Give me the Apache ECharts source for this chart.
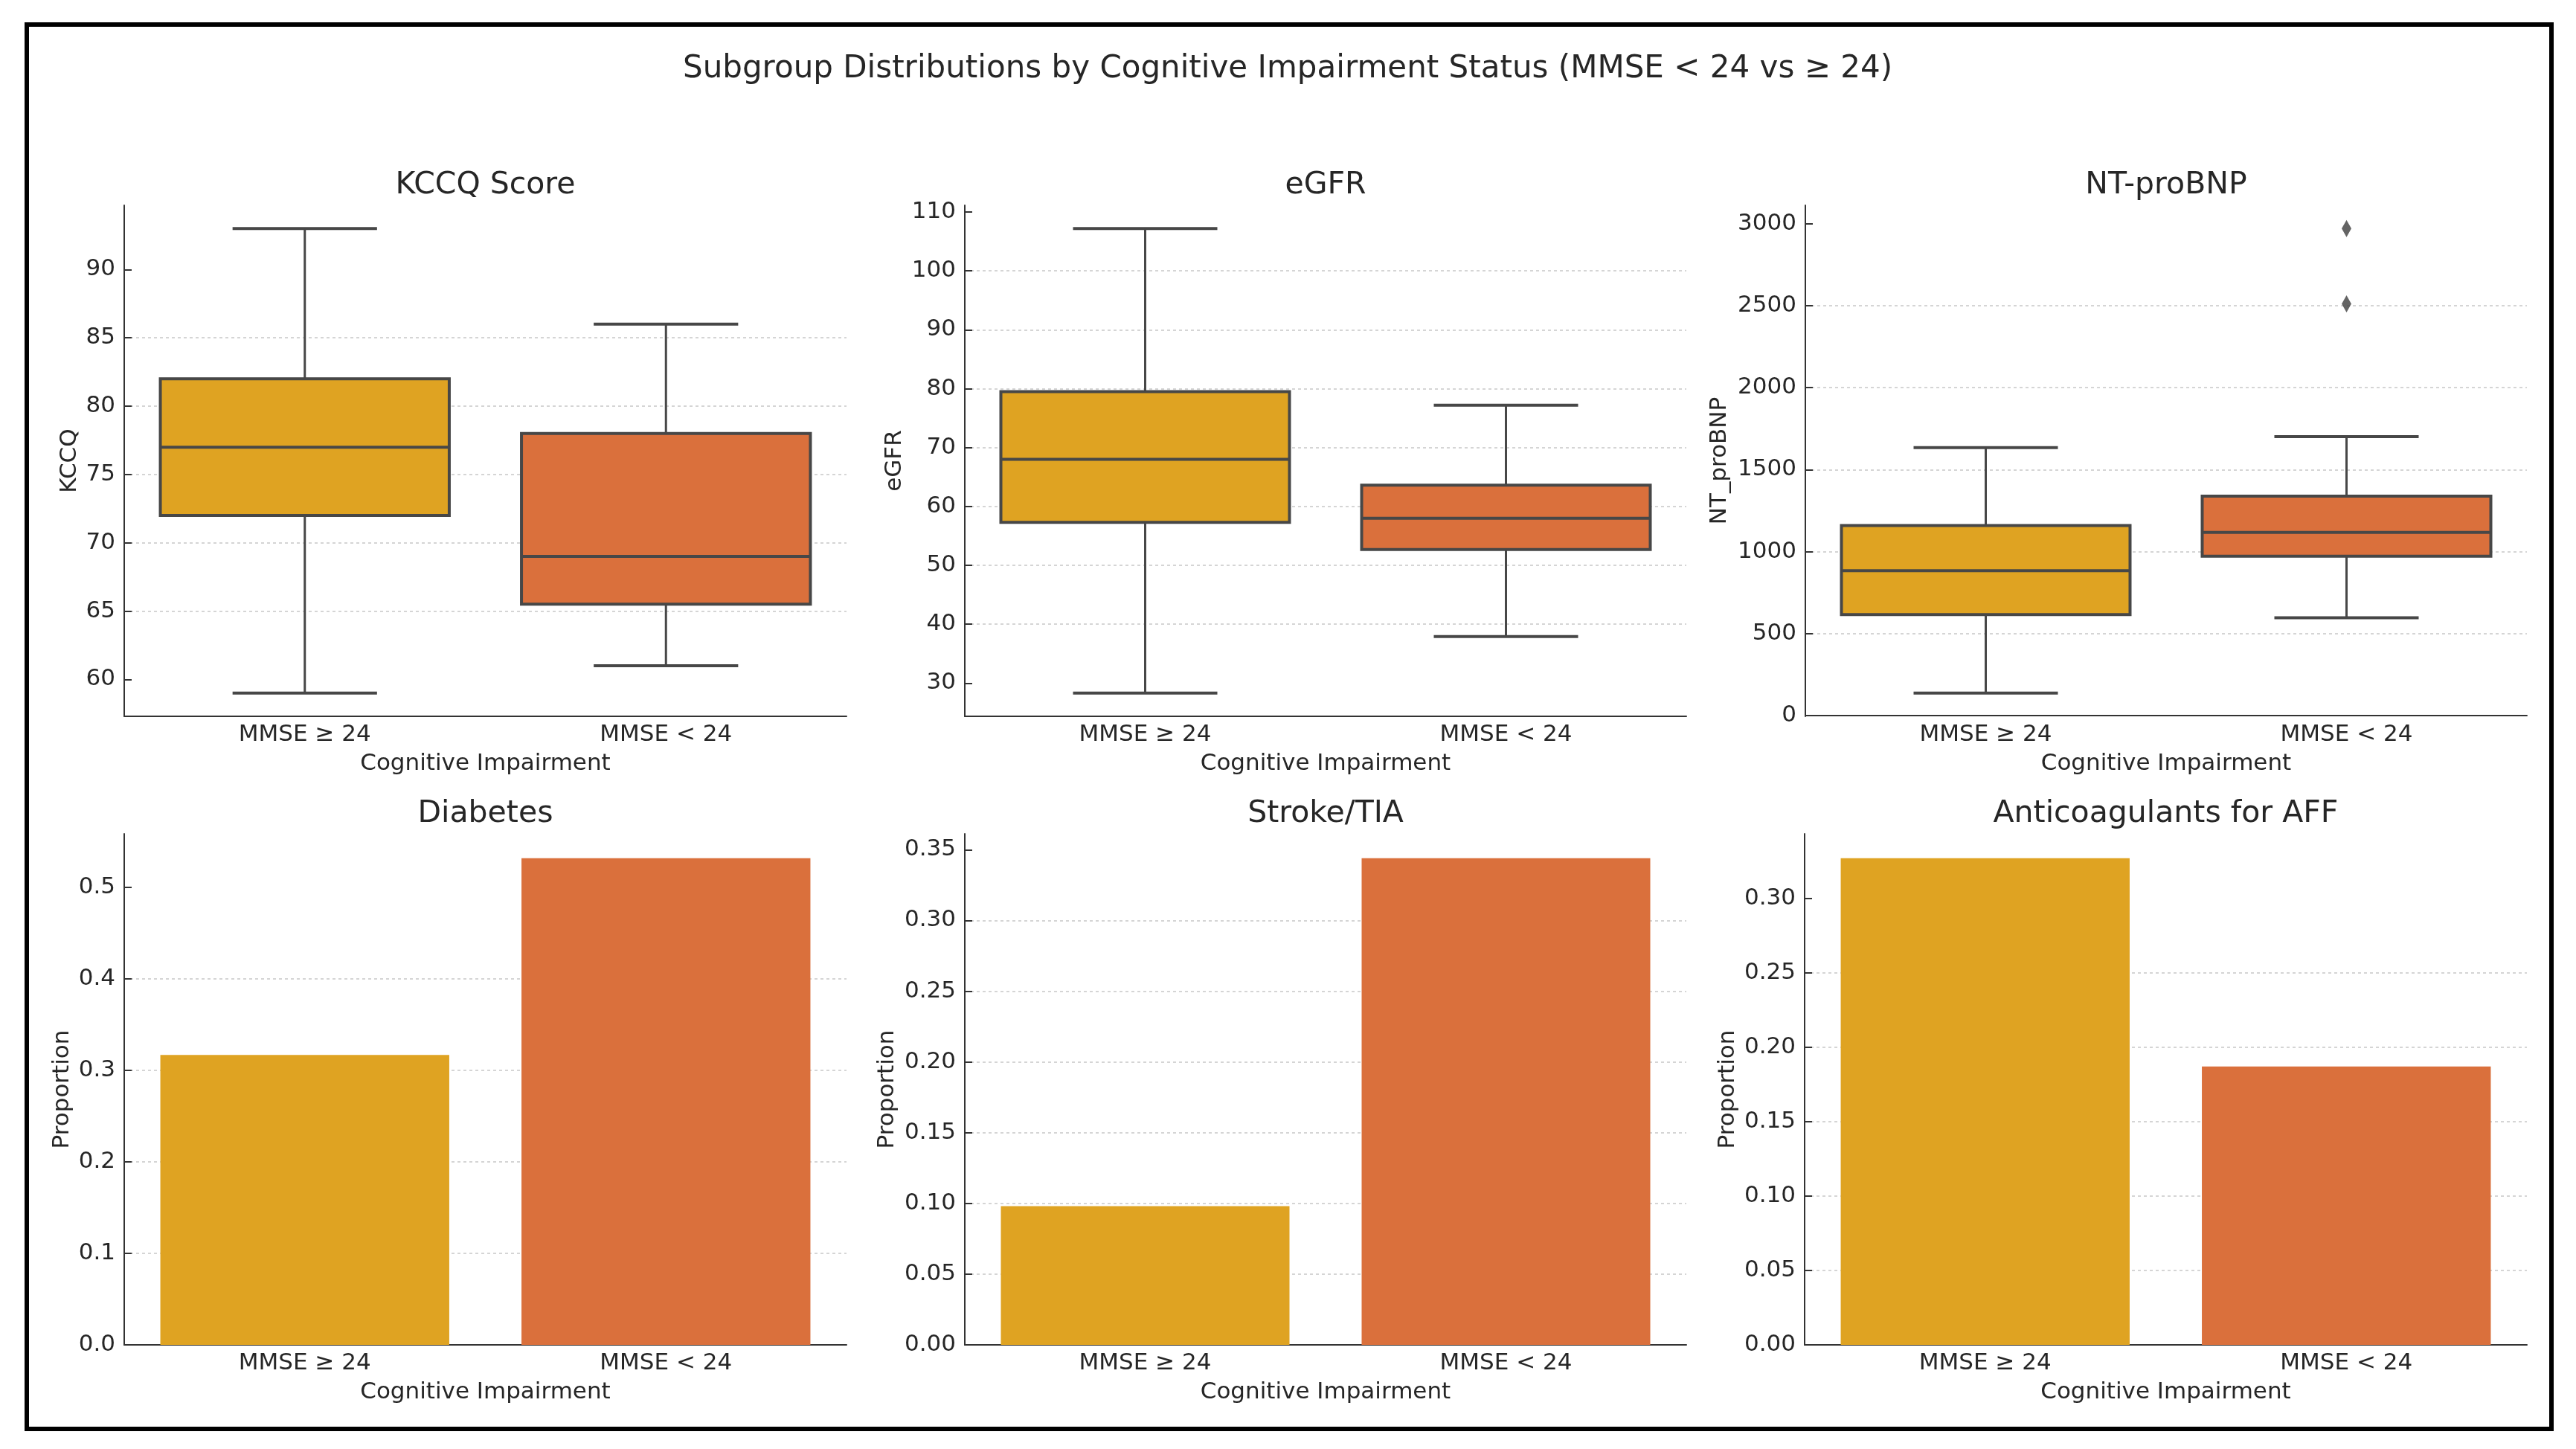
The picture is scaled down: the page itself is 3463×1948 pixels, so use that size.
<!DOCTYPE html>
<html lang="en">
<head>
<meta charset="UTF-8">
<script src="https://cdn.jsdelivr.net/npm/echarts@6.0.0/dist/echarts.min.js"></script>
<title>Subgroup Distributions by Cognitive Impairment Status</title>
<style>
    html, body { margin: 0; padding: 0; background: #fff; }
    #chart { width: 3463px; height: 1948px; }
</style>
</head>
<body>
<div id="chart"></div>
<script>
    // categories and colours
    var groups = ['MMSE ≥ 24', 'MMSE < 24'];
    var groupColors = ['#DFA322', '#DA703C'];

    // box plots: [low whisker, Q1, median, Q3, high whisker]
    var kccqBox = [[59, 72, 77, 82, 93], [61, 65.5, 69, 78, 86]];
    var egfrBox = [[28.3, 57.3, 68, 79.5, 107.2], [37.9, 52.7, 58, 63.6, 77.2]];
    var bnpBox = [[137, 616, 884, 1159, 1635], [597, 972, 1117, 1338, 1701]];
    var bnpOutliers = [[1, 2971], [1, 2512]];

    // proportions
    var diabetes = [0.317, 0.532];
    var stroke = [0.098, 0.344];
    var anticoag = [0.327, 0.187];

    // y tick labels
    var kccqTicks = [60, 65, 70, 75, 80, 85, 90];
    var egfrTicks = [30, 40, 50, 60, 70, 80, 90, 100, 110];
    var bnpTicks = [0, 500, 1000, 1500, 2000, 2500, 3000];
    var diabetesTicks = [0, 0.1, 0.2, 0.3, 0.4, 0.5];
    var strokeTicks = [0, 0.05, 0.1, 0.15, 0.2, 0.25, 0.3, 0.35];
    var anticoagTicks = [0, 0.05, 0.1, 0.15, 0.2, 0.25, 0.3];

    var FONT = 'DejaVu Sans';
    var INK = '#262626';
    var EDGE = '#474747';
    var AXIS = '#333333';

    var panels = [
        {title: 'KCCQ Score', yName: 'KCCQ', gap: 58, box: kccqBox, out: [], ticks: kccqTicks, step: 5, dec: 0, left: 167, top: 276, width: 971},
        {title: 'eGFR', yName: 'eGFR', gap: 79, box: egfrBox, out: [], ticks: egfrTicks, step: 10, dec: 0, left: 1297, top: 276, width: 970},
        {title: 'NT-proBNP', yName: 'NT_proBNP', gap: 100, box: bnpBox, out: bnpOutliers, ticks: bnpTicks, step: 500, dec: 0, left: 2427, top: 276, width: 970},
        {title: 'Diabetes', yName: 'Proportion', gap: 68, bars: diabetes, ticks: diabetesTicks, step: 0.1, dec: 1, left: 167, top: 1121, width: 971},
        {title: 'Stroke/TIA', yName: 'Proportion', gap: 89, bars: stroke, ticks: strokeTicks, step: 0.05, dec: 2, left: 1297, top: 1121, width: 970},
        {title: 'Anticoagulants for AFF', yName: 'Proportion', gap: 88, bars: anticoag, ticks: anticoagTicks, step: 0.05, dec: 2, left: 2426, top: 1121, width: 971}
    ];
    var PLOT_H = 687;

    function renderBox(params, api) {
        var i = api.value(0);
        var band = api.size([1, 0])[0];
        var half = band * 0.4, cap = band * 0.2;
        var lo = api.coord([i, api.value(1)]);
        var q1 = api.coord([i, api.value(2)])[1];
        var md = api.coord([i, api.value(3)])[1];
        var q3 = api.coord([i, api.value(4)])[1];
        var hi = api.coord([i, api.value(5)])[1];
        var cx = lo[0];
        var thin = {stroke: EDGE, lineWidth: 3};
        var thick = {stroke: EDGE, lineWidth: 4};
        return {
            type: 'group',
            children: [
                {type: 'line', shape: {x1: cx, y1: lo[1], x2: cx, y2: q1}, style: thin},
                {type: 'line', shape: {x1: cx, y1: q3, x2: cx, y2: hi}, style: thin},
                {type: 'line', shape: {x1: cx - cap, y1: lo[1], x2: cx + cap, y2: lo[1]}, style: thick},
                {type: 'line', shape: {x1: cx - cap, y1: hi, x2: cx + cap, y2: hi}, style: thick},
                {type: 'rect', shape: {x: cx - half, y: q3, width: half * 2, height: q1 - q3},
                    style: {fill: groupColors[i], stroke: EDGE, lineWidth: 4}},
                {type: 'line', shape: {x1: cx - half, y1: md, x2: cx + half, y2: md}, style: thick}
            ]
        };
    }

    var grids = [], xAxes = [], yAxes = [], series = [];
    var texts = [{
        type: 'text', x: 1731, y: 93,
        style: {text: 'Subgroup Distributions by Cognitive Impairment Status (MMSE < 24 vs ≥ 24)',
            fontSize: 42, fontFamily: FONT, fill: INK, align: 'center', verticalAlign: 'middle'}
    }];

    panels.forEach(function (p, k) {
        var lo, hi;
        if (p.box) {
            var vals = [];
            p.box.forEach(function (b) { vals = vals.concat(b); });
            p.out.forEach(function (o) { vals.push(o[1]); });
            var a = Math.min.apply(null, vals), b = Math.max.apply(null, vals);
            lo = a - 0.05 * (b - a);
            hi = b + 0.05 * (b - a);
        } else {
            lo = 0;
            hi = Math.max.apply(null, p.bars) * 1.05;
        }

        grids.push({left: p.left, top: p.top, width: p.width, height: PLOT_H});

        xAxes.push({
            type: 'category', gridIndex: k, data: groups,
            name: 'Cognitive Impairment', nameLocation: 'middle', nameGap: 48,
            nameTextStyle: {fontSize: 31, fontFamily: FONT, color: INK},
            axisLine: {lineStyle: {color: AXIS, width: 2}},
            axisTick: {alignWithLabel: true, inside: true, length: 9, lineStyle: {color: AXIS, width: 2}},
            axisLabel: {fontSize: 31, fontFamily: FONT, color: INK, margin: 9},
            splitLine: {show: false}
        });

        yAxes.push({
            type: 'value', gridIndex: k, min: lo, max: hi,
            minInterval: p.step, maxInterval: p.step,
            name: p.yName, nameLocation: 'middle', nameGap: p.gap, nameRotate: 90,
            nameTextStyle: {fontSize: 31, fontFamily: FONT, color: INK},
            axisLine: {show: true, lineStyle: {color: AXIS, width: 2}},
            axisTick: {show: true, inside: true, length: 10, customValues: p.ticks,
                lineStyle: {color: AXIS, width: 2}},
            axisLabel: {fontSize: 31, fontFamily: FONT, color: INK, margin: 12, customValues: p.ticks,
                formatter: function (v) { return v.toFixed(p.dec); }},
            splitLine: {show: true, showMinLine: false, showMaxLine: false,
                lineStyle: {color: '#c8c8c8', width: 1.5, type: [4, 4]}}
        });

        if (p.box) {
            series.push({
                type: 'custom', xAxisIndex: k, yAxisIndex: k,
                renderItem: renderBox,
                encode: {x: 0, y: [1, 2, 3, 4, 5]},
                data: p.box.map(function (b, i) { return [i].concat(b); }),
                z: 3
            });
            if (p.out.length) {
                series.push({
                    type: 'scatter', xAxisIndex: k, yAxisIndex: k,
                    symbol: 'diamond', symbolSize: [13, 23],
                    itemStyle: {color: '#3d3d3d'},
                    data: p.out, z: 4
                });
            }
        } else {
            series.push({
                type: 'bar', xAxisIndex: k, yAxisIndex: k, barWidth: '80%',
                data: p.bars.map(function (v, i) {
                    return {value: v, itemStyle: {color: groupColors[i]}};
                })
            });
        }

        texts.push({
            type: 'text', x: p.left + p.width / 2, y: p.top - 27,
            style: {text: p.title, fontSize: 41, fontFamily: FONT, fill: INK,
                align: 'center', verticalAlign: 'middle'}
        });
    });

    // outer frame
    texts.push({
        type: 'rect', shape: {x: 36, y: 33, width: 3394, height: 1888},
        style: {fill: 'none', stroke: '#000', lineWidth: 6}, z: 10
    });

    var chart = echarts.init(document.getElementById('chart'));
    chart.setOption({
        backgroundColor: '#fff',
        animation: false,
        grid: grids,
        xAxis: xAxes,
        yAxis: yAxes,
        series: series,
        graphic: texts
    });
</script>
</body>
</html>
